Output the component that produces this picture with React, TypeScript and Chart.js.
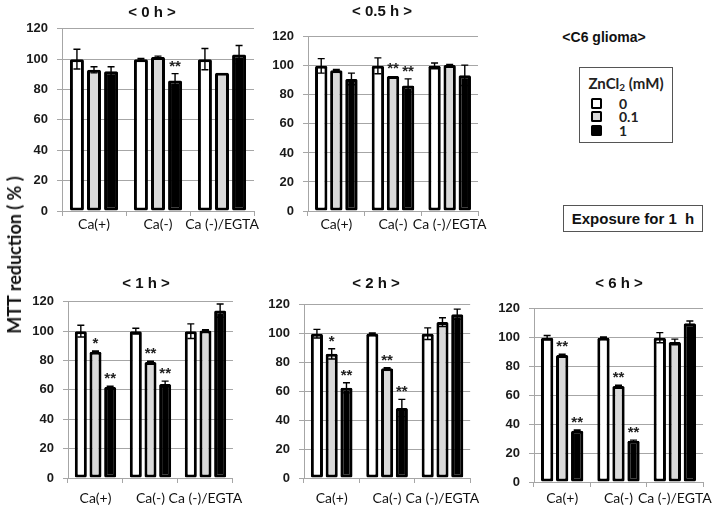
import React, { useEffect, useRef } from "react";
import { Chart, registerables } from "chart.js";

Chart.register(...registerables);

// ---------- data ----------
const categories = ["Ca(+)", "Ca(-)", "Ca (-)/EGTA"];
const znLevels = ["0", "0.1", "1"];
const yTickValues = [0, 20, 40, 60, 80, 100, 120];
const panelTitles = ["< 0 h >", "< 0.5 h >", "< 1 h >", "< 2 h >", "< 6 h >"];

// 0 h
const h0Zn0 = [100, 100, 100];
const h0Zn0Err = [6.5, 0.5, 7];
const h0Zn01 = [93, 101.5, 91];
const h0Zn01Err = [2, 0.5, 0];
const h0Zn1 = [92, 86, 103];
const h0Zn1Err = [3, 4.5, 6];
const h0Sig01 = ["", "", ""];
const h0Sig1 = ["", "**", ""];

// 0.5 h
const h05Zn0 = [100, 100, 100];
const h05Zn0Err = [5, 5.5, 2];
const h05Zn01 = [97, 93, 100.5];
const h05Zn01Err = [0.5, 0, 0.5];
const h05Zn1 = [91, 86.5, 93.5];
const h05Zn1Err = [4, 4.5, 7];
const h05Sig01 = ["", "**", ""];
const h05Sig1 = ["", "**", ""];

// 1 h
const h1Zn0 = [100, 100, 100];
const h1Zn0Err = [4, 2, 5];
const h1Zn01 = [86, 79, 100.5];
const h1Zn01Err = [0.5, 0.5, 0.5];
const h1Zn1 = [62, 64, 114];
const h1Zn1Err = [0.5, 2, 4.5];
const h1Sig01 = ["*", "**", ""];
const h1Sig1 = ["**", "**", ""];

// 2 h
const h2Zn0 = [100, 100, 100];
const h2Zn0Err = [3, 0.5, 4];
const h2Zn01 = [86, 76, 108];
const h2Zn01Err = [3.5, 0.5, 3];
const h2Zn1 = [62.5, 48.5, 113.5];
const h2Zn1Err = [3.5, 6, 3.5];
const h2Sig01 = ["*", "**", ""];
const h2Sig1 = ["**", "**", ""];

// 6 h
const h6Zn0 = [100, 100, 100];
const h6Zn0Err = [1.5, 0.5, 3.5];
const h6Zn01 = [88, 66.5, 97];
const h6Zn01Err = [0.5, 0.5, 2];
const h6Zn1 = [35.5, 28.5, 110];
const h6Zn1Err = [0.5, 0.5, 1.5];
const h6Sig01 = ["**", "**", ""];
const h6Sig1 = ["**", "**", ""];

const noSig = ["", "", ""];

// ---------- styles / layout ----------
const fills = ["#ffffff", "#d9d9d9", "#000000"];
const GRID = "#a6a6a6";
const Y_AXIS_W = 45;
const PAD_TOP = 14;
const PAD_RIGHT = 16;
const X_AXIS_H = 34;

type PanelDef = {
  title: string;
  values: number[][];
  errors: number[][];
  sigs: string[][];
  L: number; R: number; T: number; B: number;
  labelPad: number;
  titleX: number; titleY: number;
};

const panels: PanelDef[] = [
  {
    title: panelTitles[0],
    values: [h0Zn0, h0Zn01, h0Zn1],
    errors: [h0Zn0Err, h0Zn01Err, h0Zn1Err],
    sigs: [noSig, h0Sig01, h0Sig1],
    L: 62, R: 254, T: 26, B: 211, labelPad: 0, titleX: 152, titleY: 11,
  },
  {
    title: panelTitles[1],
    values: [h05Zn0, h05Zn01, h05Zn1],
    errors: [h05Zn0Err, h05Zn01Err, h05Zn1Err],
    sigs: [noSig, h05Sig01, h05Sig1],
    L: 308, R: 478, T: 34, B: 211, labelPad: 0, titleX: 382, titleY: 10,
  },
  {
    title: panelTitles[2],
    values: [h1Zn0, h1Zn01, h1Zn1],
    errors: [h1Zn0Err, h1Zn01Err, h1Zn1Err],
    sigs: [noSig, h1Sig01, h1Sig1],
    L: 68, R: 236, T: 299, B: 478, labelPad: 7, titleX: 146, titleY: 282,
  },
  {
    title: panelTitles[3],
    values: [h2Zn0, h2Zn01, h2Zn1],
    errors: [h2Zn0Err, h2Zn01Err, h2Zn1Err],
    sigs: [noSig, h2Sig01, h2Sig1],
    L: 304, R: 473, T: 302, B: 478, labelPad: 7, titleX: 376, titleY: 282,
  },
  {
    title: panelTitles[4],
    values: [h6Zn0, h6Zn01, h6Zn1],
    errors: [h6Zn0Err, h6Zn01Err, h6Zn1Err],
    sigs: [noSig, h6Sig01, h6Sig1],
    L: 534, R: 703, T: 306, B: 482, labelPad: 3, titleX: 619, titleY: 282,
  },
];

const errorBarPlugin = {
  id: "errorBarsAndStars",
  afterDatasetsDraw(chart: any) {
    const ctx = chart.ctx;
    const y = chart.scales.y;
    chart.data.datasets.forEach((ds: any, i: number) => {
      const meta = chart.getDatasetMeta(i);
      meta.data.forEach((el: any, j: number) => {
        const v = ds.data[j];
        const e = ds.errors[j] || 0;
        const x = el.x;
        ctx.save();
        if (e > 0) {
          const top = y.getPixelForValue(v + e);
          const bot = y.getPixelForValue(v - e);
          ctx.strokeStyle = "#000";
          ctx.lineWidth = 1.4;
          ctx.beginPath();
          ctx.moveTo(x, bot);
          ctx.lineTo(x, top);
          ctx.moveTo(x - 3.5, top);
          ctx.lineTo(x + 3.5, top);
          ctx.moveTo(x - 3.5, bot);
          ctx.lineTo(x + 3.5, bot);
          ctx.stroke();
        }
        const s = ds.sigs[j];
        if (s) {
          ctx.fillStyle = "#222";
          ctx.font = "bold 15px 'Liberation Sans', Arial, sans-serif";
          ctx.textAlign = "center";
          ctx.textBaseline = "alphabetic";
          ctx.fillText(s, x, y.getPixelForValue(v + e) - 3);
        }
        ctx.restore();
      });
    });
  },
};

function Panel({ p }: { p: PanelDef }) {
  const ref = useRef<HTMLCanvasElement | null>(null);
  const width = p.R - p.L + Y_AXIS_W + PAD_RIGHT;
  const height = p.B - p.T + PAD_TOP + X_AXIS_H;

  useEffect(() => {
    if (!ref.current) return;
    const chart = new Chart(ref.current, {
      type: "bar",
      data: {
        labels: categories,
        datasets: znLevels.map((lvl, i) => ({
          label: lvl,
          data: p.values[i],
          errors: p.errors[i],
          sigs: p.sigs[i],
          backgroundColor: fills[i],
          borderColor: "#000000",
          borderWidth: 3,
          borderRadius: 1.5,
          borderSkipped: false,
          categoryPercentage: 0.8,
          barPercentage: 0.82,
        })) as any,
      },
      options: {
        responsive: false,
        maintainAspectRatio: false,
        animation: false,
        layout: { padding: { top: PAD_TOP, right: PAD_RIGHT, left: 0, bottom: 0 } },
        plugins: {
          legend: { display: false },
          tooltip: { enabled: false },
          title: { display: false },
        },
        scales: {
          x: {
            grid: {
              display: true,
              drawOnChartArea: false,
              drawTicks: true,
              tickLength: 5,
              offset: true,
              color: GRID,
              lineWidth: 1,
            },
            border: { display: true, color: GRID, width: 1 },
            ticks: {
              color: "#111",
              font: { family: "Lato", size: 14 },
              padding: p.labelPad,
              maxRotation: 0,
              autoSkip: false,
            },
            afterFit: (s: any) => {
              s.height = X_AXIS_H;
            },
          },
          y: {
            min: 0,
            max: 120,
            afterBuildTicks: (s: any) => {
              s.ticks = yTickValues.map((v) => ({ value: v }));
            },
            grid: { color: GRID, tickLength: 5, drawTicks: true, lineWidth: 1 },
            border: { display: true, color: GRID, width: 1 },
            ticks: {
              color: "#1a1a1a",
              font: { family: "'Liberation Sans', Arial", size: 13, weight: "bold" },
              padding: 9,
            },
            afterFit: (s: any) => {
              s.width = Y_AXIS_W;
            },
          },
        },
      } as any,
      plugins: [errorBarPlugin],
    });
    return () => chart.destroy();
  }, []);

  return (
    <>
      <canvas
        ref={ref}
        width={width}
        height={height}
        style={{
          position: "absolute",
          left: p.L - Y_AXIS_W,
          top: p.T - PAD_TOP,
          width,
          height,
          display: "block",
        }}
      />
      <div
        style={{
          position: "absolute",
          left: p.titleX,
          top: p.titleY,
          transform: "translate(-50%, -50%)",
          font: "bold 15px 'Liberation Sans', Arial, sans-serif",
          color: "#111",
          whiteSpace: "pre",
        }}
      >
        {p.title}
      </div>
    </>
  );
}

export default function App() {
  const swatchTops = [98, 111, 125];
  return (
    <div
      style={{
        position: "absolute",
        left: 0,
        top: 0,
        width: 724,
        height: 513,
        background: "#ffffff",
        overflow: "hidden",
      }}
    >
      {panels.map((p, i) => (
        <Panel key={i} p={p} />
      ))}

      {/* y-axis label */}
      <div
        style={{
          position: "absolute",
          left: 14,
          top: 255,
          transform: "translate(-50%, -50%) rotate(-90deg)",
          font: "bold 18px Lato, 'Open Sans', sans-serif",
          color: "#111",
          whiteSpace: "nowrap",
        }}
      >
        MTT reduction ( % )
      </div>

      {/* C6 glioma */}
      <div
        style={{
          position: "absolute",
          left: 604,
          top: 37,
          transform: "translate(-50%, -50%)",
          font: "bold 14px 'Liberation Sans', Arial, sans-serif",
          color: "#111",
          whiteSpace: "nowrap",
        }}
      >
        {"<C6 glioma>"}
      </div>

      {/* legend */}
      <div
        style={{
          position: "absolute",
          left: 579,
          top: 67,
          width: 94,
          height: 76,
          border: "1px solid #555",
          boxSizing: "border-box",
        }}
      />
      <div
        style={{
          position: "absolute",
          left: 626,
          top: 83,
          transform: "translate(-50%, -50%)",
          font: "bold 15px Lato, sans-serif",
          color: "#222",
          whiteSpace: "nowrap",
        }}
      >
        ZnCl<sub style={{ fontSize: 10, verticalAlign: "-2px" }}>2</sub> (mM)
      </div>
      {znLevels.map((lvl, i) => (
        <React.Fragment key={lvl}>
          <div
            style={{
              position: "absolute",
              left: 591,
              top: swatchTops[i],
              width: 11,
              height: 11,
              background: fills[i],
              border: "2.5px solid #000",
              borderRadius: 1.5,
              boxSizing: "border-box",
            }}
          />
          <div
            style={{
              position: "absolute",
              left: 619,
              top: swatchTops[i] + 5,
              transform: "translateY(-50%)",
              font: "bold 14px Lato, sans-serif",
              color: "#222",
              whiteSpace: "nowrap",
            }}
          >
            {lvl}
          </div>
        </React.Fragment>
      ))}

      {/* exposure box */}
      <div
        style={{
          position: "absolute",
          left: 563,
          top: 205,
          width: 140,
          height: 27,
          border: "1px solid #555",
          boxSizing: "border-box",
          display: "flex",
          alignItems: "center",
          justifyContent: "center",
          font: "bold 15px 'Liberation Sans', Arial, sans-serif",
          color: "#111",
          whiteSpace: "pre",
        }}
      >
        {"Exposure for 1  h"}
      </div>
    </div>
  );
}
